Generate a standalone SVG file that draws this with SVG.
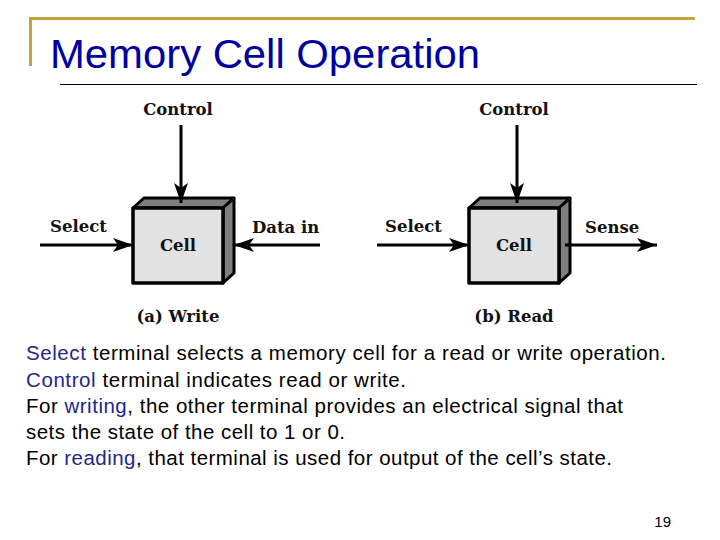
<svg xmlns="http://www.w3.org/2000/svg" width="720" height="540" viewBox="0 0 720 540">
<style>
.lbl{font-family:"DejaVu Serif","Liberation Serif",serif;font-weight:bold;font-size:16.5px;fill:#111;}
.cap{font-family:"DejaVu Serif","Liberation Serif",serif;font-weight:bold;font-size:16.5px;fill:#111;}
.body{font-family:"Liberation Sans",Arial,sans-serif;font-size:20.5px;fill:#000;}
.hl{fill:#26268a;}
.front{fill:#e2e2e2;stroke:#000;stroke-width:3.5;stroke-linejoin:round;}
.side{fill:#7f7f7f;stroke:#000;stroke-width:3;stroke-linejoin:round;}
.wire{stroke:#000;stroke-width:3;fill:none;}
</style>
<defs>
<marker id="ah" markerUnits="userSpaceOnUse" markerWidth="22" markerHeight="16" refX="20" refY="7" orient="auto">
<path d="M0,0 L20,7 L0,14 L5,7 z" fill="#000"/>
</marker>
</defs>
<rect width="720" height="540" fill="#fff"/>
<g id="frame">
<path d="M30.5,66 V18.5 H695" fill="none" stroke="#c4a43c" stroke-width="3"/>
<line x1="60" y1="84.5" x2="697" y2="84.5" stroke="#000" stroke-width="1.2"/>
<text x="50" y="68" font-family="'Liberation Sans',Arial,sans-serif" font-size="40" fill="#0000a0" textLength="430" lengthAdjust="spacingAndGlyphs">Memory Cell Operation</text>
</g>
<g id="cell-write">
<path class="side" d="M133,208 L144,198 L234,198 L223,208 z"/>
<path class="side" d="M223,208 L234,198 L234,273 L223,283 z"/>
<rect class="front" x="133" y="208" width="90" height="75"/>
<text class="lbl" x="178" y="251" text-anchor="middle">Cell</text>
</g>
<g id="cell-read">
<path class="side" d="M469,208 L480,198 L570,198 L559,208 z"/>
<path class="side" d="M559,208 L570,198 L570,273 L559,283 z"/>
<rect class="front" x="469" y="208" width="90" height="75"/>
<text class="lbl" x="514" y="251" text-anchor="middle">Cell</text>
</g>
<g id="connectors">
<line class="wire" x1="181" y1="125" x2="181" y2="203" marker-end="url(#ah)"/>
<line class="wire" x1="40" y1="245" x2="133" y2="245" marker-end="url(#ah)"/>
<line class="wire" x1="320" y1="245" x2="234" y2="245" marker-end="url(#ah)"/>
<line class="wire" x1="517" y1="125" x2="517" y2="203" marker-end="url(#ah)"/>
<line class="wire" x1="377" y1="245" x2="469" y2="245" marker-end="url(#ah)"/>
<line class="wire" x1="565" y1="245" x2="657" y2="245" marker-end="url(#ah)"/>
</g>
<g id="labels">
<text class="lbl" x="178" y="115" text-anchor="middle">Control</text>
<text class="lbl" x="50" y="232">Select</text>
<text class="lbl" x="252" y="233">Data in</text>
<text class="cap" x="178" y="322" text-anchor="middle">(a) Write</text>
<text class="lbl" x="514" y="115" text-anchor="middle">Control</text>
<text class="lbl" x="385" y="232">Select</text>
<text class="lbl" x="585" y="233">Sense</text>
<text class="cap" x="514" y="322" text-anchor="middle">(b) Read</text>
</g>
<g id="body">
<text class="body" x="26" y="360" textLength="640" lengthAdjust="spacing"><tspan class="hl">Select</tspan> terminal selects a memory cell for a read or write operation.</text>
<text class="body" x="26" y="387" textLength="380" lengthAdjust="spacing"><tspan class="hl">Control</tspan> terminal indicates read or write.</text>
<text class="body" x="26" y="413" textLength="597" lengthAdjust="spacing">For <tspan class="hl">writing</tspan>, the other terminal provides an electrical signal that</text>
<text class="body" x="26" y="439" textLength="319" lengthAdjust="spacing">sets the state of the cell to 1 or 0.</text>
<text class="body" x="26" y="465" textLength="586" lengthAdjust="spacing">For <tspan class="hl">reading</tspan>, that terminal is used for output of the cell’s state.</text>
<text x="671" y="527" text-anchor="end" font-family="'Liberation Sans',Arial,sans-serif" font-size="15" fill="#000">19</text>
</g>
</svg>
